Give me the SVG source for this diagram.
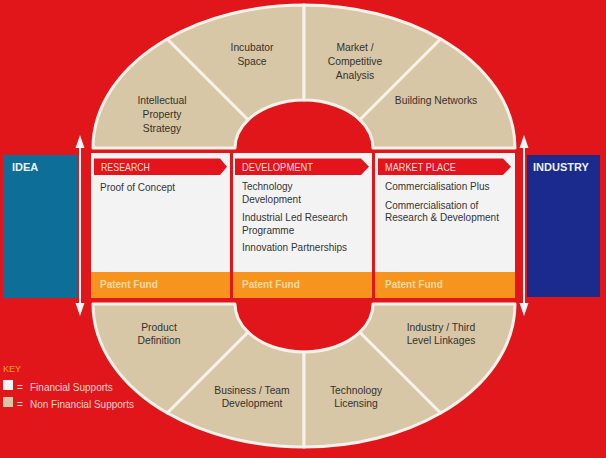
<svg xmlns="http://www.w3.org/2000/svg" width="606" height="458" viewBox="0 0 606 458">
<style>
text{font-family:"Liberation Sans",Arial,sans-serif;}
.seg{fill:#d7c7a6;stroke:#f6f1e9;stroke-width:3;stroke-linejoin:round;}
.rt{font-size:10.3px;fill:#36312c;text-anchor:middle;}
.box{fill:#f3f3f3;}
.hdr{fill:#e3141b;}
.ht{font-size:10.5px;fill:#f9dcdc;}
.bt{font-size:10px;fill:#333333;}
.pf{fill:#f7941d;}
.pft{font-size:10px;font-weight:bold;fill:#fbd9a4;}
.end{font-size:11px;font-weight:bold;fill:#eef2f8;}
.arr{stroke:#f6f6f6;stroke-width:2;fill:none;marker-start:url(#ah);marker-end:url(#ah);}
.kt{font-size:10px;fill:#f8d2d2;}
</style>
<defs>
<marker id="ah" viewBox="0 0 13 10" refX="10" refY="5" markerWidth="13" markerHeight="10" markerUnits="userSpaceOnUse" orient="auto-start-reverse">
<path d="M0,0.5 L13,5 L0,9.5 Z" fill="#f6f6f6"/>
</marker>
</defs>
<rect x="0" y="0" width="606" height="458" fill="#e0161b"/>

<g id="ring-top">
<g id="n-ip"><path class="seg" d="M93,148 A211,143 0 0 1 167.3,39 L248.1,119.8 A69,48 0 0 0 235,148 Z"/>
<text class="rt" x="162" y="103.6">Intellectual</text><text class="rt" x="162" y="117.9">Property</text><text class="rt" x="162" y="131.9">Strategy</text></g>
<g id="n-incubator"><path class="seg" d="M167.3,39 A211,143 0 0 1 304,5 L304,100 A69,48 0 0 0 248.1,119.8 Z"/>
<text class="rt" x="252" y="51">Incubator</text><text class="rt" x="252" y="65.3">Space</text></g>
<g id="n-market"><path class="seg" d="M304,5 A211,143 0 0 1 440.7,39 L359.9,119.8 A69,48 0 0 0 304,100 Z"/>
<text class="rt" x="355" y="51">Market /</text><text class="rt" x="355" y="65.3">Competitive</text><text class="rt" x="355" y="78.8">Analysis</text></g>
<g id="n-networks"><path class="seg" d="M440.7,39 A211,143 0 0 1 515,148 L373,148 A69,48 0 0 0 359.9,119.8 Z"/>
<text class="rt" x="436" y="103.6">Building Networks</text></g>
</g>

<g id="ring-bottom">
<g id="n-product"><path class="seg" d="M93,304 A211,143 0 0 0 167.3,413 L248.1,332.2 A69,48 0 0 1 235,304 Z"/>
<text class="rt" x="159" y="331">Product</text><text class="rt" x="159" y="344.4">Definition</text></g>
<g id="n-business"><path class="seg" d="M167.3,413 A211,143 0 0 0 304,447 L304,352 A69,48 0 0 1 248.1,332.2 Z"/>
<text class="rt" x="252" y="393.6">Business / Team</text><text class="rt" x="252" y="407">Development</text></g>
<g id="n-licensing"><path class="seg" d="M304,447 A211,143 0 0 0 440.7,413 L359.9,332.2 A69,48 0 0 1 304,352 Z"/>
<text class="rt" x="356" y="394.3">Technology</text><text class="rt" x="356" y="407.3">Licensing</text></g>
<g id="n-linkages"><path class="seg" d="M440.7,413 A211,143 0 0 0 515,304 L373,304 A69,48 0 0 1 359.9,332.2 Z"/>
<text class="rt" x="441" y="331">Industry / Third</text><text class="rt" x="441" y="344.4">Level Linkages</text></g>
</g>

<g id="connectors">
<line class="arr" x1="80" y1="138" x2="80" y2="313"/>
<line class="arr" x1="524" y1="138" x2="524" y2="313"/>
</g>

<g id="n-idea">
<rect x="3" y="155" width="75" height="143" fill="#0d6f97"/>
<text class="end" x="12" y="171">IDEA</text>
</g>

<g id="n-research">
<rect class="box" x="91" y="153" width="139" height="145"/>
<path class="hdr" d="M94,158.5 H220 L227,166.7 L220,175 H94 Z"/>
<text class="ht" x="101" y="170.5" textLength="49" lengthAdjust="spacingAndGlyphs">RESEARCH</text>
<text class="bt" x="100" y="190.5">Proof of Concept</text>
<rect class="pf" x="91" y="272" width="139" height="26"/>
<text class="pft" x="100" y="287.6">Patent Fund</text>
</g>

<g id="n-development">
<rect class="box" x="233" y="153" width="139" height="145"/>
<path class="hdr" d="M235,158.5 H361 L369,166.7 L361,175 H235 Z"/>
<text class="ht" x="242" y="170.5" textLength="71" lengthAdjust="spacingAndGlyphs">DEVELOPMENT</text>
<text class="bt" x="242" y="190.3">Technology</text>
<text class="bt" x="242" y="202.9">Development</text>
<text class="bt" x="242" y="220.9">Industrial Led Research</text>
<text class="bt" x="242" y="233.5">Programme</text>
<text class="bt" x="242" y="251.3">Innovation Partnerships</text>
<rect class="pf" x="233" y="272" width="139" height="26"/>
<text class="pft" x="242" y="287.6">Patent Fund</text>
</g>

<g id="n-marketplace">
<rect class="box" x="375" y="153" width="140" height="145"/>
<path class="hdr" d="M378,158.5 H503 L511,166.7 L503,175 H378 Z"/>
<text class="ht" x="385" y="170.5" textLength="71" lengthAdjust="spacingAndGlyphs">MARKET PLACE</text>
<text class="bt" x="385" y="190.3">Commercialisation Plus</text>
<text class="bt" x="385" y="208.6">Commercialisation of</text>
<text class="bt" x="385" y="220.9">Research &amp; Development</text>
<rect class="pf" x="375" y="272" width="140" height="26"/>
<text class="pft" x="385" y="287.6">Patent Fund</text>
</g>

<g id="n-industry">
<rect x="527" y="155" width="73" height="142" fill="#1b2a8d"/>
<text class="end" x="533" y="171">INDUSTRY</text>
</g>

<g id="key">
<text x="3" y="372" font-size="9" fill="#f5a21e">KEY</text>
<rect x="3" y="380" width="10" height="10" fill="#f3f3f3"/>
<text class="kt" x="17" y="390.5">=<tspan x="30">Financial Supports</tspan></text>
<rect x="3" y="397" width="10" height="10" fill="#d7c7a6"/>
<text class="kt" x="17" y="407.5">=<tspan x="30">Non Financial Supports</tspan></text>
</g>
</svg>
